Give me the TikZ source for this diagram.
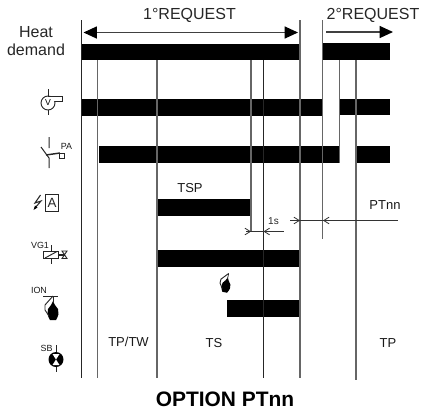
\documentclass[tikz,border=0pt]{standalone}
\usepackage{fontspec}
\setmainfont{Liberation Sans}
\usetikzlibrary{arrows.meta}
\newcommand{\fs}[1]{\fontsize{#1}{#1}\selectfont}
\tikzset{
  x=0.75pt,y=-0.75pt,
  bar/.style={fill=black,draw=none},
  vline/.style={draw=black!60,line width=0.95pt},
  vdark/.style={draw=black!85,line width=0.85pt},
  sym/.style={draw=black!85,line width=0.55pt},
  big/.style={draw=black!75,line width=0.9pt},
  lab/.style={inner sep=0pt,font=\fs{12},text=black!85},
  mid/.style={inner sep=0pt,font=\fs{9.75},text=black!90},
  tiny/.style={inner sep=0pt,font=\fs{6.7},text=black!90},
  dim/.style={draw=black!80,line width=0.6pt},
  tipR/.style={-{Straight Barb[length=4pt,width=5pt]}},
  burner/.pic={
    \fill[black] (0,-11) -- (2,-7) -- (5,-3) -- (5.5,2) -- (4.5,5) -- (3,8) -- (-3,8) -- (-4.5,5) -- (-5.5,2) -- (-5,-3) -- (-2,-7) -- cycle;
    \draw[sym] (0,-16) -- (0,-9);
    \draw[sym,line width=0.7pt] (0,-16) -- (-8,-7) -- (-8,-2) -- (-4,4);
  }
}
\begin{document}
\begin{tikzpicture}
\useasboundingbox (0,0) rectangle (422,412);
% bars
\fill[bar] (81.5,44) rectangle (301,60);
\fill[bar] (323,43) rectangle (390,60);
\fill[bar] (81.5,99) rectangle (323,116);
\fill[bar] (339.5,99) rectangle (390,115);
\fill[bar] (99,146) rectangle (340,163);
\fill[bar] (356,146) rectangle (390,163);
\fill[bar] (157,199) rectangle (252,216);
\fill[bar] (157,250) rectangle (301,267);
\fill[bar] (227,300) rectangle (300,317);
% vertical lines
\draw[vdark] (81.5,20) -- (81.5,378);
\draw[vline] (97.5,60) -- (97.5,378);
\draw[vline] (157,60) -- (157,378);
\draw[vline] (251,60) -- (251,232);
\draw[vdark] (263.5,60) -- (263.5,378);
\draw[vline] (300,20) -- (300,378);
\draw[vline] (322.7,20) -- (322.7,239);
\draw[vline] (339.5,60) -- (339.5,163);
\draw[vline] (356,60) -- (356,380);
% request arrows
\draw[big,{Triangle[length=10pt,width=9pt,color=black,fill=black]}-{Triangle[length=10pt,width=9pt,color=black,fill=black]}] (83.5,32.5) -- (298,32.5);
\draw[big,-{Triangle[length=10pt,width=9pt,color=black,fill=black]}] (326,32) -- (393,32);
% dimensions
\draw[dim] (246,231.5) -- (284,231.5);
\draw[dim,tipR] (246,231.5) -- (251,231.5);
\draw[dim,tipR] (279,231.5) -- (263.5,231.5);
\draw[dim] (290,220.5) -- (398,220.5);
\draw[dim,tipR] (290,220.5) -- (300,220.5);
\draw[dim,tipR] (340,220.5) -- (323,220.5);
% texts
\node[lab] (req1) at (189.5,15) {1°REQUEST};
\node[lab] (req2) at (373,15) {2°REQUEST};
\node[lab] (heat) at (36,32) {Heat};
\node[lab] (demand) at (36,49.5) {demand};
\node[mid] (tsp) at (190,188) {TSP};
\node[inner sep=0pt,font=\fs{7.5},text=black!85] (ones) at (273.5,221) {1s};
\node[mid] (ptnn) at (385,205) {PTnn};
\node[mid] (tptw) at (128.5,342) {TP/TW};
\node[mid] (ts) at (214,343) {TS};
\node[mid] (tp) at (388,343) {TP};
\node[inner sep=0pt,font=\bfseries\fs{15.7}] (title) at (225,399.5) {OPTION PTnn};
% fan
\draw[sym,line width=0.7pt] (48.5,89) -- (48.5,115);
\draw[sym,line width=0.7pt,fill=white] (48,103) circle[radius=7];
\fill[white] (48,96.3) rectangle (61.5,100.7);
\draw[sym,line width=0.7pt] (48,96) -- (62,96) -- (62,101) -- (54.6,101);
\node[inner sep=0pt,font=\fs{6.5}] (fanv) at (48,103) {V};
% PA switch
\draw[sym,line width=0.75pt] (49,137) -- (49,148) (41,147) -- (49,158) -- (49,168);
\draw[sym,line width=1.1pt] (46,155) -- (60,153);
\draw[sym,fill=white] (59.5,153) rectangle (64.5,158);
\node[tiny] (pa) at (66.5,146) {PA};
% flash and A
\draw[sym,line width=0.8pt] (40.5,195) -- (35,203) -- (41,201) -- (35,208);
\fill (33.5,210) -- (35,205.5) -- (37.5,207.5) -- cycle;
\draw[sym,line width=0.65pt] (45.5,194.5) rectangle (58.5,211);
\node[inner sep=0pt,font=\fs{10},text=black!85] (aa) at (52,203) {A};
% VG1
\node[tiny] (vg) at (40,245) {VG1};
\draw[sym] (51,245) -- (51,264);
\draw[sym,line width=0.7pt,fill=white] (43.5,251) rectangle (58.5,258.5);
\draw[sym,line width=0.7pt] (45,258) -- (57,251.5);
\draw[sym,line width=0.8pt] (58.5,255) -- (64.5,255);
\draw[sym,line width=0.7pt] (62,251) -- (67,251) -- (62,258.5) -- (67,258.5) -- cycle;
% ION
\node[tiny] (ion) at (39,290) {ION};
\draw[sym,line width=0.7pt] (43,296.5) -- (58,296.5);
\pic at (53,312) {burner};
% SB
\node[tiny] (sb) at (46.5,348) {SB};
\draw[sym,line width=0.7pt] (56,345) -- (56,372);
\fill[black] (56,359.5) circle[radius=7.5];
\fill[white] (56,359.5) -- (52.5,354) -- (59.5,354) -- cycle;
\fill[white] (56,359.5) -- (52.5,365) -- (59.5,365) -- cycle;
% small burner
\pic[scale=0.8,rotate=-12] at (226,286) {burner};
\end{tikzpicture}
\end{document}
